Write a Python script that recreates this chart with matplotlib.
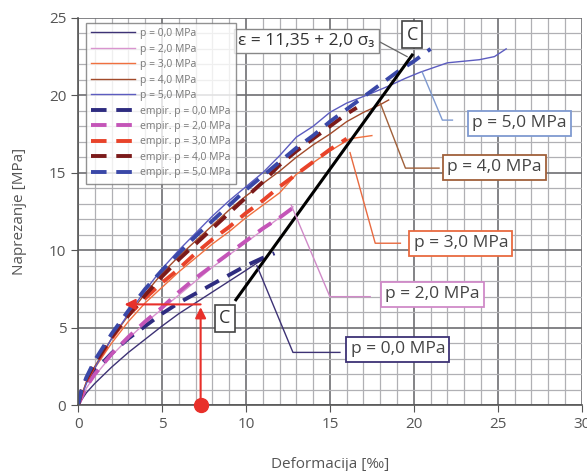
import matplotlib
matplotlib.use("Agg")
import matplotlib.pyplot as plt
from matplotlib.ticker import MultipleLocator

plt.rcParams['font.family'] = ['Open Sans', 'DejaVu Sans']

# measured curves
x_p0 = [0, 0.5, 1, 2, 3, 4, 5, 6, 7, 8, 9, 10, 10.7, 11.2]
y_p0 = [0, 0.8, 1.4, 2.45, 3.4, 4.25, 5.1, 5.9, 6.6, 7.3, 8.0, 8.7, 9.2, 9.5]
x_p2 = [0, 0.5, 1, 2, 3, 4, 5, 6, 7, 8, 9, 10, 11, 12, 12.8]
y_p2 = [0, 1.1, 1.9, 3.2, 4.3, 5.3, 6.2, 7.1, 8.0, 8.9, 9.7, 10.5, 11.3, 12.1, 12.8]
x_p3 = [0, 0.5, 1, 2, 3, 4, 5, 6, 7, 8, 9, 10, 11, 12, 13, 13.8, 15, 16.2, 17.5]
y_p3 = [0, 1.5, 2.4, 4.0, 5.4, 6.6, 7.6, 8.6, 9.5, 10.4, 11.2, 12.1, 12.9, 13.7, 14.9, 15.5, 16.4, 17.2, 17.4]
x_p4 = [0, 0.5, 1, 2, 3, 4, 5, 6, 7, 8, 9, 10, 11, 12, 13, 14, 15, 16, 17, 18, 18.5]
y_p4 = [0, 1.5, 2.5, 4.3, 5.8, 7.2, 8.5, 9.6, 10.6, 11.6, 12.6, 13.5, 14.3, 15.1, 16.0, 16.8, 17.5, 18.3, 18.9, 19.4, 19.7]
x_p5 = [0, 0.5, 1, 2, 3, 4, 5, 6, 7, 8, 9, 10, 11, 12, 13, 14, 15, 16, 17.4, 18.5, 19.5, 20.4, 22, 23.9, 24.8, 25.5]
y_p5 = [0, 1.4, 2.4, 4.3, 5.9, 7.4, 8.8, 10.0, 11.1, 12.2, 13.2, 14.1, 15.0, 16.1, 17.3, 18.0, 18.9, 19.5, 20.1, 20.6, 21.1, 21.5, 22.1, 22.3, 22.5, 23.0]

# empirical curves
xe_p0 = [0, 0.5, 1, 2, 3, 4, 5, 6, 7, 8, 9, 10, 11, 11.7]
ye_p0 = [0, 1.4, 2.2, 3.35, 4.3, 5.1, 5.9, 6.6, 7.2, 7.8, 8.4, 9.0, 9.5, 9.8]
xe_p2 = [0, 0.5, 1, 2, 3, 4, 5, 6, 7, 8, 9, 10, 11, 12, 13]
ye_p2 = [0, 1.2, 2.0, 3.3, 4.4, 5.4, 6.3, 7.3, 8.2, 9.0, 9.8, 10.6, 11.4, 12.1, 12.9]
xe_p3 = [0, 0.2, 0.5, 1, 2, 3, 4, 5, 5.8, 7, 8, 9, 10, 11, 12, 13, 14, 15, 16]
ye_p3 = [0, 0.8, 1.6, 2.6, 4.3, 5.8, 6.9, 7.9, 8.6, 9.8, 10.7, 11.5, 12.4, 13.2, 14.1, 14.9, 15.7, 16.5, 17.2]
xe_p4 = [0, 0.2, 0.5, 1, 2, 3, 4, 5, 6, 7, 8, 9, 10, 11, 12, 13, 14, 15, 16, 16.6]
ye_p4 = [0, 0.9, 1.7, 2.7, 4.4, 5.8, 7.1, 8.3, 9.4, 10.4, 11.4, 12.4, 13.4, 14.4, 15.5, 16.4, 17.2, 18.0, 18.8, 19.2]
xe_p5 = [0, 0.2, 0.5, 1, 2, 3, 4, 5, 6, 7, 8, 9, 10, 11, 12, 13, 14, 15, 16, 17, 18, 19, 20, 21]
ye_p5 = [0, 0.95, 1.8, 2.9, 4.6, 6.1, 7.5, 8.7, 9.8, 10.9, 11.9, 12.9, 13.9, 14.8, 15.7, 16.6, 17.4, 18.3, 19.1, 19.9, 20.7, 21.5, 22.2, 23.0]

# line C
x_c = [9.4, 19.9]
y_c = [6.8, 22.6]

names = ["p = 0,0 MPa", "p = 2,0 MPa", "p = 3,0 MPa", "p = 4,0 MPa", "p = 5,0 MPa"]
meas = [(x_p0, y_p0), (x_p2, y_p2), (x_p3, y_p3), (x_p4, y_p4), (x_p5, y_p5)]
emp = [(xe_p0, ye_p0), (xe_p2, ye_p2), (xe_p3, ye_p3), (xe_p4, ye_p4), (xe_p5, ye_p5)]
cm = ['#3d3275', '#d994cf', '#f0703f', '#a24a2a', '#5c5cc0']
ce = ['#2e2c80', '#c455b8', '#e8432a', '#7b1a1a', '#3a48a8']
box_ec = ['#3d3275', '#d08ac8', '#e86a40', '#a0603a', '#7f9ad0']

# label boxes and their leader lines
lab_pos = [(19.05, 3.6), (21.1, 7.15), (22.8, 10.45), (24.8, 15.35), (26.3, 18.2)]
lead_x = [[10.65, 12.8, 15.6], [12.7, 15.0, 17.4], [16.2, 17.7, 19.2], [18.0, 19.5, 21.5], [20.5, 21.7, 22.3]]
lead_y = [[9.0, 3.4, 3.4], [12.9, 7.0, 7.0], [16.3, 10.45, 10.45], [19.5, 15.3, 15.3], [21.5, 18.4, 18.4]]

fig = plt.figure(figsize=(5.87, 4.71), dpi=100)
ax = fig.add_axes([0.133, 0.140, 0.858, 0.822])
ax.set_xlim(0, 30)
ax.set_ylim(0, 25)
ax.xaxis.set_major_locator(MultipleLocator(5))
ax.yaxis.set_major_locator(MultipleLocator(5))
ax.xaxis.set_minor_locator(MultipleLocator(1))
ax.yaxis.set_minor_locator(MultipleLocator(1))
ax.grid(which='minor', color='#b0b0b4', lw=0.9)
ax.grid(which='major', color='#6e6e72', lw=1.2)
ax.set_axisbelow(True)
for s in ['top', 'right']:
    ax.spines[s].set_visible(False)
for s in ['left', 'bottom']:
    ax.spines[s].set_color('#555555')
    ax.spines[s].set_linewidth(1.2)
ax.tick_params(which='major', direction='out', length=5, color='#555555', labelsize=11, labelcolor='#555555')
ax.tick_params(which='minor', length=0)
ax.set_xlabel('Deformacija [‰]', fontsize=11, color='#555555', labelpad=18)
ax.set_ylabel('Naprezanje [MPa]', fontsize=11, color='#555555', labelpad=16)

for i in range(5):
    ax.plot(meas[i][0], meas[i][1], color=cm[i], lw=1.0, label=names[i])
for i in range(5):
    ax.plot(emp[i][0], emp[i][1], color=ce[i], lw=2.8, dashes=(4, 2.5), label='empir. ' + names[i])

ax.plot(x_c, y_c, color='black', lw=2.2)

for i in range(5):
    ax.plot(lead_x[i], lead_y[i], color=box_ec[i], lw=1.0)
    ax.text(lab_pos[i][0], lab_pos[i][1], names[i], fontsize=12.5, color='#444444', ha='center', va='center',
            bbox=dict(boxstyle='square,pad=0.25', fc='white', ec=box_ec[i], lw=1.3))

# equation and C boxes
ax.plot([17.8, 19.6], [23.55, 22.5], color='#666666', lw=0.9)
ax.text(13.6, 23.5, 'ε = 11,35 + 2,0 σ₃', fontsize=12.5, color='#333333', ha='center', va='center',
        bbox=dict(boxstyle='square,pad=0.25', fc='white', ec='#888888', lw=1.0))
ax.text(19.9, 23.9, 'C', fontsize=13, color='#333333', ha='center', va='center',
        bbox=dict(boxstyle='square,pad=0.25', fc='white', ec='#444444', lw=1.2))
ax.text(8.75, 5.6, 'C', fontsize=13, color='#333333', ha='center', va='center',
        bbox=dict(boxstyle='square,pad=0.25', fc='white', ec='#444444', lw=1.2))

# red arrow
red = '#e8302a'
ax.plot([7.3], [0], 'o', color=red, ms=10, clip_on=False, zorder=6)
ax.annotate('', xy=(7.3, 6.5), xytext=(7.3, 0), arrowprops=dict(arrowstyle='-|>', color=red, lw=1.5, mutation_scale=16))
ax.annotate('', xy=(2.6, 6.5), xytext=(7.3, 6.5), arrowprops=dict(arrowstyle='-|>', color=red, lw=1.5, mutation_scale=16, shrinkA=0))

leg = ax.legend(loc='upper left', bbox_to_anchor=(0.016, 0.987), borderaxespad=0, fontsize=7.5, handlelength=4.2,
                labelspacing=0.43, handletextpad=0.5, frameon=True, fancybox=False, edgecolor='#777777', borderpad=0.5)
leg.get_frame().set_linewidth(1.0)
for t in leg.get_texts():
    t.set_color('#777777')

plt.savefig('out.png', dpi=100)
plt.close()
